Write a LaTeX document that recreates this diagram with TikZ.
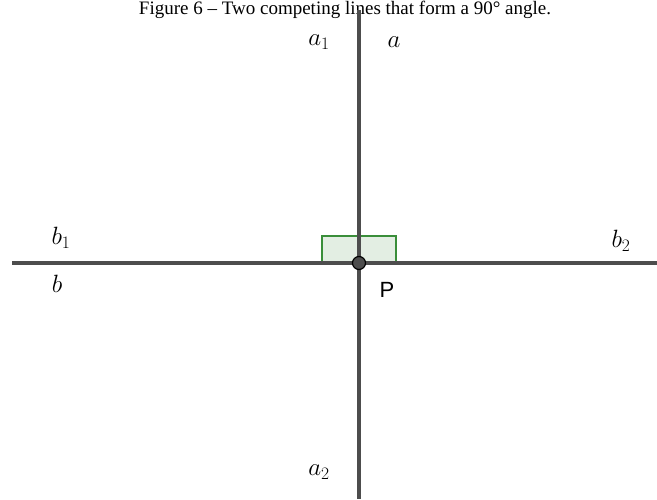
\documentclass[tikz,border=0pt]{standalone}
\usepackage{fix-cm}
\usepackage{fontspec}
\setmainfont{Liberation Serif}
\newfontfamily\labelsans{Liberation Sans}
\usepackage{xcolor}
\usetikzlibrary{positioning}

\definecolor{linegray}{HTML}{4D4D4D}
\definecolor{anglegreen}{HTML}{3A8E3A}
\definecolor{anglefill}{HTML}{E3EEE3}

\begin{document}
\begin{tikzpicture}[
  x=1pt, y=-1pt,
  line/.style={draw=linegray, line width=3.2pt},
  lbl/.style={inner sep=0pt, font=\fontsize{25}{30}\selectfont},
  rightangle/.style={draw=anglegreen, fill=anglefill, line width=2.6pt},
  pt/.style={circle, draw=black, fill=linegray, line width=1.2pt, minimum size=13pt, inner sep=0pt}
]
\useasboundingbox (0,0) rectangle (657,499);
% caption at the top
\node[anchor=base, inner sep=0pt, font=\fontsize{19}{22}\selectfont] (caption) at (345,14)
  {Figure 6 -- Two competing lines that form a 90\textdegree\ angle.};
% end points of the two lines
\coordinate (top) at (359,10);
\coordinate (bottom) at (359,499);
\coordinate (left) at (12,263);
\coordinate (right) at (657,263);
\coordinate (P) at (359,263);
% right angle mark
\draw[rightangle] (322,236) rectangle (396,263);
\draw[line] (top) -- (bottom);
\draw[line] (left) -- (right);
\node[pt] (Pdot) at (P) {};
% labels
\node[lbl] (a1) at (319,42) {$a_1$};
\node[lbl] (a) at (394,42) {$a$};
\node[lbl] (a2) at (319,472) {$a_2$};
\node[lbl] (b1) at (61,238) {$b_1$};
\node[lbl] (b) at (57,284) {$b$};
\node[lbl] (b2) at (621,241) {$b_2$};
\node[lbl, font=\fontsize{22}{26}\selectfont\labelsans] (Plbl) at (387,290) {P};
\end{tikzpicture}
\end{document}
